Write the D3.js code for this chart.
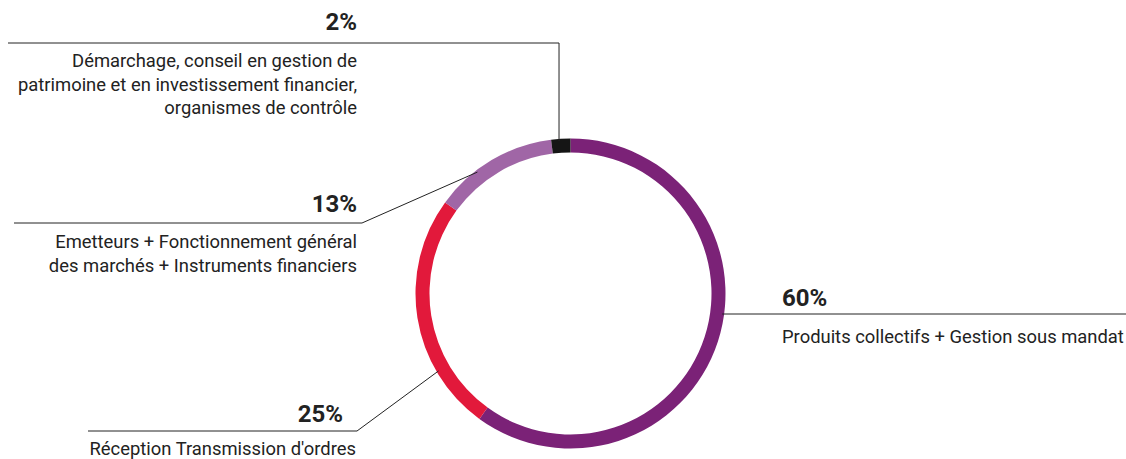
<!DOCTYPE html>
<html>
<head>
<meta charset="utf-8">
<script src="https://cdn.jsdelivr.net/npm/d3@7"></script>
<style>
  body { margin: 0; background: #fff; }
  text { font-family: Roboto, "Noto Sans", sans-serif; fill: #222; }
</style>
</head>
<body>
<div id="chart-area"></div>
<script>
// data (clockwise from 12 o'clock)
const categories = ["Produits collectifs + Gestion sous mandat", "Réception Transmission d'ordres",
  "Emetteurs + Fonctionnement général des marchés + Instruments financiers",
  "Démarchage, conseil en gestion de patrimoine et en investissement financier, organismes de contrôle"];
const shares = [60, 25, 13, 2];
const colors = ["#7b2277", "#e2193b", "#a066a6", "#151515"];
const labelLines = [
  ["Produits collectifs + Gestion sous mandat"],
  ["Réception Transmission d'ordres"],
  ["Emetteurs + Fonctionnement général", "des marchés + Instruments financiers"],
  ["Démarchage, conseil en gestion de", "patrimoine et en investissement financier,", "organismes de contrôle"]
];

const WIDTH = 1126, HEIGHT = 459;
const CX = 570.5, CY = 293.5, R_OUT = 155, R_IN = 141;

// where each callout sits (shelf line, text anchor, where the leader meets the ring)
const callouts = [
  { shelfY: 314, shelfX: 1126, textX: 782, anchor: "start", touchAngle: 97.5, pctDy: -8, descDy: 29 },
  { shelfY: 431, shelfX: 88, elbowX: 357, textX: 356, pctX: 343, anchor: "end", touchAngle: 239.6, pctDy: -9, descDy: 24 },
  { shelfY: 223, shelfX: 14, elbowX: 362, textX: 357, anchor: "end", touchAngle: 322.5, pctDy: -11, descDy: 25 },
  { shelfY: 43, shelfX: 8, textX: 357, anchor: "end", touchAngle: 355.7, pctDy: -13, descDy: 24, vertical: true }
];

const svg = d3.select("#chart-area").append("svg")
  .attr("width", WIDTH)
  .attr("height", HEIGHT);

const pie = d3.pie().sort(null).value(d => d);
const arc = d3.arc().innerRadius(R_IN).outerRadius(R_OUT);

const ring = svg.append("g")
  .attr("transform", `translate(${CX}, ${CY})`);

ring.selectAll("path")
  .data(pie(shares))
  .enter()
  .append("path")
  .attr("d", arc)
  .attr("fill", (d, i) => colors[i]);

// point on ring at angle (deg, clockwise from top)
function polar(deg, r) {
  const a = deg * Math.PI / 180;
  return [CX + r * Math.sin(a), CY - r * Math.cos(a)];
}

const line = d3.line();

callouts.forEach((c, i) => {
  const touch = polar(c.touchAngle, R_OUT - 2);
  let pts;
  if (c.vertical) {
    pts = [[c.shelfX, c.shelfY], [touch[0], c.shelfY], [touch[0], touch[1]]];
  } else if (c.elbowX === undefined) {
    pts = [[touch[0], c.shelfY], [c.shelfX, c.shelfY]];
  } else {
    pts = [[c.shelfX, c.shelfY], [c.elbowX, c.shelfY], touch];
  }
  svg.append("path")
    .attr("d", line(pts))
    .attr("fill", "none")
    .attr("stroke", "#222")
    .attr("stroke-width", 1);

  svg.append("text")
    .attr("x", c.pctX || c.textX)
    .attr("y", c.shelfY + c.pctDy)
    .attr("text-anchor", c.anchor)
    .attr("font-size", "24px")
    .attr("font-weight", "700")
    .text(shares[i] + "%");

  const t = svg.append("text")
    .attr("x", c.textX)
    .attr("y", c.shelfY + c.descDy)
    .attr("text-anchor", c.anchor)
    .attr("font-size", "18.4px");
  labelLines[i].forEach((s, k) => {
    t.append("tspan")
      .attr("x", c.textX)
      .attr("dy", k === 0 ? 0 : 23.5)
      .text(s);
  });
});
</script>
</body>
</html>
